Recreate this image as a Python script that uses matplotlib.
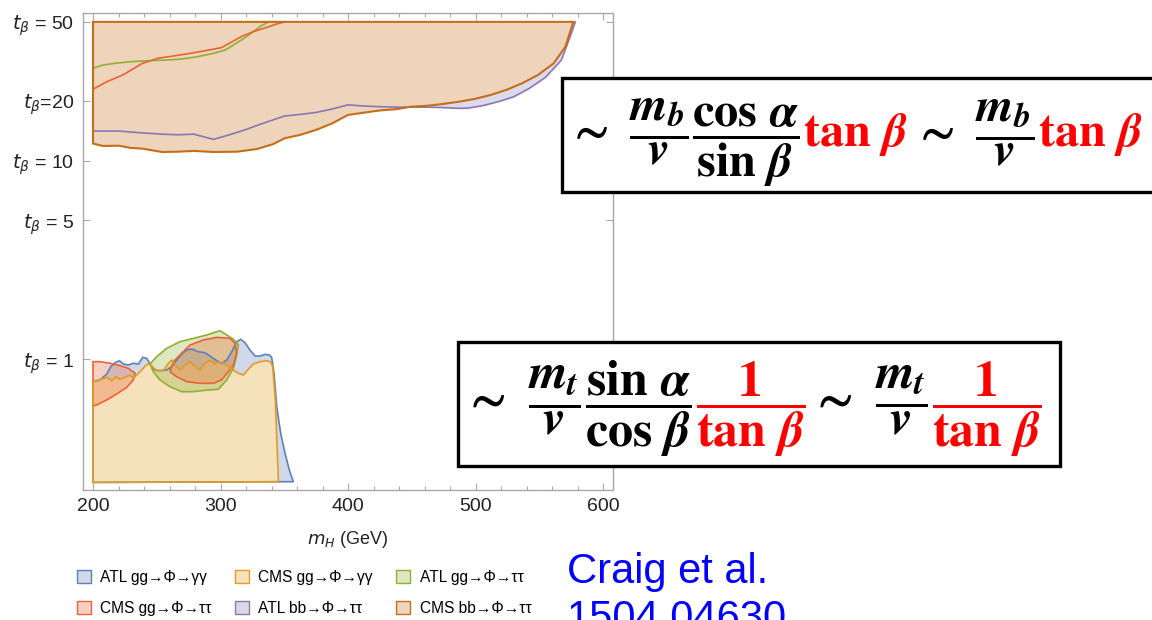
import matplotlib
matplotlib.use("Agg")
import matplotlib.pyplot as plt
from matplotlib.patches import Patch, Rectangle
from matplotlib.ticker import MultipleLocator, NullLocator
from matplotlib.colors import to_rgba

plt.rcParams['mathtext.fontset'] = 'custom'
plt.rcParams['mathtext.rm'] = 'STIXGeneral:bold'
plt.rcParams['mathtext.it'] = 'STIXGeneral:italic:bold'
plt.rcParams['mathtext.bf'] = 'STIXGeneral:bold'
plt.rcParams['font.family'] = ['Liberation Sans', 'DejaVu Sans']

# ---------------- data ----------------
TB_TOP = 50.0
TB_BOTTOM = 0.24
M_START = 200.0

# large tan(beta): lower edges of excluded regions (excluded above, up to TB_TOP)
cms_bb_m = [200, 207.7, 220.1, 229.4, 238.7, 254.2, 266.6, 279.0, 294.5, 313.1, 328.6, 341.0,
            350.4, 362.7, 375.1, 387.5, 400.0, 412.4, 424.8, 437.2, 449.6, 462.0, 474.4, 486.8,
            499.2, 511.6, 524.0, 536.4, 548.9, 561.3, 570.5, 576.7]
cms_bb_tb = [12.2, 11.86, 11.9, 11.6, 11.5, 11.06, 11.1, 11.2, 11.06, 11.1, 11.45, 12.1,
             12.97, 13.5, 14.3, 15.4, 17.0, 17.45, 17.9, 18.15, 18.7, 18.9, 19.3, 19.8,
             20.45, 21.4, 22.7, 24.5, 27.0, 30.9, 37.5, 50.0]

atl_bb_m = [200, 220.1, 238.7, 254.2, 266.6, 279.0, 294.5, 306.9, 319.3, 331.7, 350.4, 362.7,
            375.1, 387.5, 400.0, 412.4, 424.8, 437.2, 449.6, 462.0, 474.4, 486.8, 493.0, 505.4,
            517.8, 530.2, 542.6, 555.0, 567.4, 575.2, 578.3]
atl_bb_tb = [14.1, 14.1, 13.8, 13.6, 13.5, 13.6, 12.8, 13.5, 14.3, 15.3, 16.8, 17.1,
             17.5, 18.2, 19.1, 18.85, 18.7, 18.6, 18.6, 18.6, 18.5, 18.35, 18.35, 18.9,
             19.8, 21.0, 23.2, 26.3, 32.1, 43.8, 50.0]

atl_ggtt_hi_m = [200, 207.7, 217.0, 229.4, 244.9, 257.3, 269.7, 282.1, 294.5, 303.8, 313.1,
                 322.4, 331.7, 337.9]
atl_ggtt_hi_tb = [29.2, 30.3, 30.9, 31.5, 31.9, 32.1, 32.5, 33.4, 34.7, 36.1, 39.3,
                  43.0, 47.7, 50.0]

cms_ggtt_hi_m = [200, 210.9, 223.3, 238.7, 251.1, 263.5, 275.9, 288.3, 300.7, 306.9, 316.2,
                 325.5, 337.9, 344.1, 350.4]
cms_ggtt_hi_tb = [22.9, 25.0, 27.0, 30.9, 32.8, 33.7, 34.7, 35.8, 37.1, 39.0, 42.1,
                  44.6, 47.3, 48.8, 50.0]

# small tan(beta): upper edges of excluded regions (excluded below, down to TB_BOTTOM)
atl_gaga_m = [200, 205.5, 210.7, 213.9, 217.3, 220.7, 223.8, 227.7, 231.6, 235.6, 239.0, 242.1,
              245.2, 248.6, 252.5, 257.8, 261.7, 265.6, 269.5, 273.5, 277.4, 282.6, 287.8,
              291.8, 297.0, 300.9, 304.8, 308.8, 312.7, 315.8, 319.2, 323.1, 327.1, 331.0,
              334.9, 338.3, 340.1, 342.0, 344.1, 347.2, 350.6, 354.0, 357.1]
atl_gaga_tb = [0.772, 0.787, 0.843, 0.918, 0.962, 0.984, 0.947, 0.936, 0.955, 0.947, 1.023, 1.011,
               0.936, 0.883, 0.877, 0.883, 0.918, 0.99, 1.063, 1.114, 1.127, 1.092, 1.08,
               1.039, 0.984, 0.955, 0.99, 1.092, 1.227, 1.261, 1.213, 1.114, 1.039, 1.039,
               1.059, 1.051, 1.023, 0.85, 0.577, 0.424, 0.336, 0.277, 0.242]

cms_gaga_m = [200, 204.2, 208.1, 211.2, 214.6, 218.0, 221.2, 225.1, 229.0, 231.6, 234.3, 238.2,
              240.8, 243.4, 246.0, 249.9, 255.2, 259.1, 261.7, 264.3, 268.2, 272.2, 276.1,
              280.0, 283.9, 287.8, 291.8, 295.7, 299.6, 304.8, 310.1, 314.0, 317.9, 321.8,
              325.7, 331.0, 336.2, 339.4, 340.9, 343.0, 345.4]
cms_gaga_tb = [0.772, 0.787, 0.799, 0.812, 0.781, 0.817, 0.793, 0.812, 0.834, 0.802, 0.834, 0.883,
               0.925, 0.947, 0.925, 0.877, 0.877, 0.955, 0.99, 0.936, 0.883, 0.936, 0.973,
               0.918, 0.883, 0.955, 0.99, 0.947, 0.973, 0.936, 0.883, 0.85, 0.834, 0.89,
               0.947, 0.973, 0.984, 0.969, 0.918, 0.624, 0.242]

# closed excluded islands at small tan(beta)
atl_ggtt_lo_m = [244.7, 249.9, 257.8, 268.2, 278.7, 289.2, 299.6, 310.1, 314.0, 312.7, 310.1,
                 304.8, 298.3, 289.2, 278.7, 269.5, 260.4, 252.5, 247.3]
atl_ggtt_lo_tb = [0.947, 1.031, 1.136, 1.227, 1.275, 1.326, 1.394, 1.261, 1.18, 1.051, 0.901,
                  0.787, 0.706, 0.700, 0.687, 0.687, 0.728, 0.787, 0.866]

cms_ggtt_lo1_m = [260.4, 263.0, 269.5, 276.1, 286.5, 297.0, 307.5, 311.4, 312.7, 310.1, 306.1,
                  300.9, 294.4, 283.9, 273.5, 265.6]
cms_ggtt_lo1_tb = [0.866, 0.973, 1.072, 1.18, 1.251, 1.290, 1.275, 1.203, 1.072, 0.936, 0.866,
                   0.787, 0.757, 0.757, 0.772, 0.817]

cms_ggtt_lo2_m = [200, 205.5, 213.3, 221.2, 227.7, 233.0, 231.6, 226.4, 218.6, 210.7, 202.9, 200]
cms_ggtt_lo2_tb = [0.973, 0.973, 0.955, 0.929, 0.901, 0.850, 0.787, 0.722, 0.669, 0.624, 0.589, 0.582]

x_ticks = [200, 300, 400, 500, 600]
y_ticks = [1, 5, 10, 20, 50]
y_tick_labels = [r'$t_\beta$ = 1', r'$t_\beta$ = 5', r'$t_\beta$ = 10', r'$t_\beta$=20', r'$t_\beta$ = 50']
legend_labels = ['ATL gg→Φ→γγ', 'CMS gg→Φ→γγ', 'ATL gg→Φ→ττ',
                 'CMS gg→Φ→ττ', 'ATL bb→Φ→ττ', 'CMS bb→Φ→ττ']

C_BLUE = (0.368, 0.507, 0.710)
C_ORANGE = (0.881, 0.611, 0.142)
C_GREEN = (0.560, 0.692, 0.195)
C_RED = (0.923, 0.386, 0.209)
C_PURPLE = (0.528, 0.471, 0.701)
C_BROWN = (0.772, 0.432, 0.102)
legend_colors = [C_BLUE, C_ORANGE, C_GREEN, C_RED, C_PURPLE, C_BROWN]


def light(c, a=0.3):
    return tuple(a * v + (1 - a) for v in c[:3])

# ---------------- figure ----------------
W, H = 1152, 620
fig = plt.figure(figsize=(W / 100, H / 100), dpi=100)
ax = fig.add_axes([82.7 / W, 1 - 490 / H, (612.7 - 82.7) / W, (490 - 12.7) / H])
ax.set_yscale('log')
ax.set_xlim(191.9, 607.6)
ax.set_ylim(0.2198, 55.6)

LW = 1.2

def upper_poly(m, tb):
    return [M_START] + list(m), [TB_TOP] + list(tb)

def lower_poly(m, tb):
    return [M_START] + list(m), [TB_BOTTOM] + list(tb)

# upper region fills (opaque light tones, brown on top)
xs, ys = upper_poly(atl_bb_m, atl_bb_tb)
ax.fill(xs, ys, facecolor=light(C_PURPLE, 0.28), edgecolor='none', zorder=1)
xs, ys = upper_poly(cms_bb_m, cms_bb_tb)
ax.fill(xs, ys, facecolor=light(C_BROWN, 0.3), edgecolor='none', zorder=1.1)

# lower region fills
xs, ys = lower_poly(atl_gaga_m, atl_gaga_tb)
ax.fill(xs, ys, facecolor=light(C_BLUE, 0.3), edgecolor='none', zorder=1)
xs, ys = lower_poly(cms_gaga_m, cms_gaga_tb)
ax.fill(xs, ys, facecolor=light(C_ORANGE, 0.3), edgecolor='none', zorder=1.1)
ax.fill(atl_ggtt_lo_m, atl_ggtt_lo_tb, facecolor=to_rgba(C_GREEN, 0.3), edgecolor='none', zorder=1.2)
ax.fill(cms_ggtt_lo1_m, cms_ggtt_lo1_tb, facecolor=to_rgba(C_RED, 0.3), edgecolor='none', zorder=1.3)
ax.fill(cms_ggtt_lo2_m, cms_ggtt_lo2_tb, facecolor=to_rgba(C_RED, 0.3), edgecolor='none', zorder=1.3)

# outlines
ax.plot(atl_bb_m, atl_bb_tb, color=C_PURPLE, lw=LW, zorder=2)
ax.plot(atl_ggtt_hi_m, atl_ggtt_hi_tb, color=C_GREEN, lw=LW, zorder=2)
ax.plot(cms_ggtt_hi_m, cms_ggtt_hi_tb, color=C_RED, lw=LW, zorder=2)
xs, ys = upper_poly(cms_bb_m, cms_bb_tb)
ax.fill(xs, ys, facecolor='none', edgecolor=C_BROWN, lw=1.5, zorder=2.2)

xs, ys = lower_poly(atl_gaga_m, atl_gaga_tb)
ax.fill(xs, ys, facecolor='none', edgecolor=C_BLUE, lw=LW, zorder=2)
ax.fill(atl_ggtt_lo_m, atl_ggtt_lo_tb, facecolor='none', edgecolor=C_GREEN, lw=LW, zorder=2.1)
ax.fill(cms_ggtt_lo1_m, cms_ggtt_lo1_tb, facecolor='none', edgecolor=C_RED, lw=LW, zorder=2.2)
ax.fill(cms_ggtt_lo2_m, cms_ggtt_lo2_tb, facecolor='none', edgecolor=C_RED, lw=LW, zorder=2.2)
xs, ys = lower_poly(cms_gaga_m, cms_gaga_tb)
ax.fill(xs, ys, facecolor='none', edgecolor=C_ORANGE, lw=LW, zorder=2.3)

# axes styling
for sp in ax.spines.values():
    sp.set_color('#a8a8a8')
    sp.set_linewidth(1.0)
ax.set_xticks(x_ticks)
ax.xaxis.set_minor_locator(MultipleLocator(20))
ax.set_yticks(y_ticks)
ax.set_yticklabels(y_tick_labels)
ax.yaxis.set_minor_locator(NullLocator())
ax.tick_params(which='both', direction='in', top=True, right=True, color='#a8a8a8',
               labelsize=14, labelcolor='#222222', width=0.8)
ax.tick_params(which='major', length=5, pad=6)
ax.tick_params(which='minor', length=3)
for lbl in ax.get_yticklabels():
    lbl.set_math_fontfamily('dejavusans')
ax.set_xlabel(r'$m_H$ (GeV)', fontsize=13, color='#222222', labelpad=10,
              math_fontfamily='dejavusans')

# legend (row-major order)
handles = [Patch(facecolor=light(c, 0.3), edgecolor=c, lw=1.0) for c in legend_colors]
order = [0, 3, 1, 4, 2, 5]
fig.legend([handles[i] for i in order], [legend_labels[i] for i in order],
           ncol=3, loc='upper left', bbox_to_anchor=(77 / W, 1 - 570 / H), frameon=False,
           fontsize=11.2, handlelength=0.9, handleheight=0.9, handletextpad=0.6,
           columnspacing=1.5, labelspacing=1.0, borderaxespad=0, borderpad=0)

# citation text
fig.text(567 / W, 1 - 583 / H, 'Craig et al.', color='blue', fontsize=30, va='baseline')
fig.text(567 / W, 1 - 630 / H, '1504.04630', color='blue', fontsize=30, va='baseline')

# formula boxes
fig.add_artist(Rectangle((562 / W, 1 - 192 / H), (1170 - 562) / W, (192 - 78) / H,
                         transform=fig.transFigure, facecolor='white', edgecolor='black',
                         lw=2.4, zorder=5))
fig.add_artist(Rectangle((458 / W, 1 - 466 / H), (1060 - 458) / W, (466 - 342) / H,
                         transform=fig.transFigure, facecolor='white', edgecolor='black',
                         lw=2.4, zorder=5))

renderer = fig.canvas.get_renderer()

def place(pieces, x0, base, width_target, size0=28):
    def layout(size, draw):
        x = x0
        texts = []
        for s, c in pieces:
            t = fig.text(x / W, 1 - base / H, s, color=c, fontsize=size, va='baseline',
                         ha='left', zorder=6)
            bb = t.get_window_extent(renderer)
            x = bb.x1 + 4
            texts.append(t)
        if not draw:
            for t in texts:
                t.remove()
        return x - x0
    w = layout(size0, False)
    layout(size0 * width_target / w, True)

box1 = [(r'$\sim\ \dfrac{m_b}{v}\dfrac{\cos\,\alpha}{\sin\,\beta}$', 'black'),
        (r'$\tan\,\beta$', 'red'),
        (r'$\sim\ \dfrac{m_b}{v}$', 'black'),
        (r'$\tan\,\beta$', 'red')]
box2 = [(r'$\sim\ \dfrac{m_t}{v}\dfrac{\sin\,\alpha}{\cos\,\beta}$', 'black'),
        (r'$\dfrac{1}{\tan\,\beta}$', 'red'),
        (r'$\sim\ \dfrac{m_t}{v}$', 'black'),
        (r'$\dfrac{1}{\tan\,\beta}$', 'red')]
place(box1, 566, 146, 587)
place(box2, 462, 415, 590)

fig.savefig('out.png', dpi=100)
